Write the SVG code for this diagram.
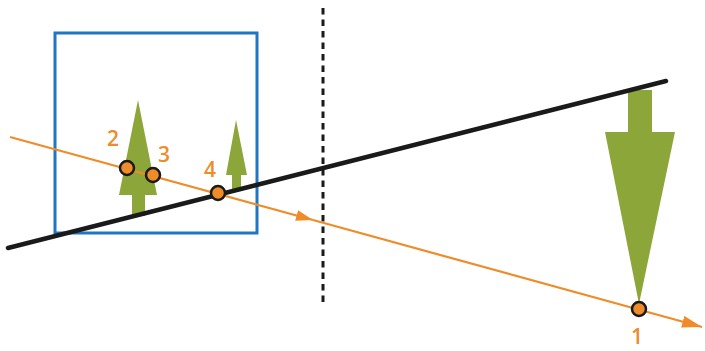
<svg xmlns="http://www.w3.org/2000/svg" width="705" height="351" viewBox="0 0 705 351">
<style>
.lbl{font-family:"Open Sans","DejaVu Sans",sans-serif;font-size:21px;font-weight:600;fill:#EF8C2A;text-anchor:middle}
.tree{fill:#8CA639}
.pt{fill:#EF8C2A;stroke:#1a1a1a;stroke-width:2.5}
.ray{stroke:#EF8C2A;stroke-width:2.2;fill:none}
</style>
<defs>
<marker id="ah" markerUnits="userSpaceOnUse" markerWidth="20" markerHeight="12" refX="20" refY="6" orient="auto">
<path d="M0,0 L20,6 L0,12 z" fill="#EF8C2A"/>
</marker>
<marker id="ahm" markerUnits="userSpaceOnUse" markerWidth="17" markerHeight="11" refX="17" refY="5.5" orient="auto">
<path d="M0,0 L17,5.5 L0,11 z" fill="#EF8C2A"/>
</marker>
</defs>
<rect width="705" height="351" fill="#ffffff"/>
<g id="box"><rect x="55" y="33" width="202" height="200" fill="none" stroke="#1F77C4" stroke-width="3"/></g>
<g id="axis"><line x1="323" y1="8" x2="323" y2="305" stroke="#1a1a1a" stroke-width="3" stroke-dasharray="6.5,5"/></g>
<g id="tree-object"><polygon class="tree" points="138,100 157,195 145,195 145,216 132,216 132,195 119,195"/></g>
<g id="tree-small"><polygon class="tree" points="236,120 247,175 241,175 241,191 232,191 232,175 226,175"/></g>
<g id="tree-image"><polygon class="tree" points="628,90 652,90 652,132 675,132 639,304 605,132 628,132"/></g>
<g id="lens"><line x1="8" y1="248" x2="666" y2="81" stroke="#1a1a1a" stroke-width="4.5" stroke-linecap="round"/></g>
<g id="connectors">
<path class="ray" d="M10,137 L313,220" marker-end="url(#ahm)"/>
<path class="ray" d="M313,220 L702,327" marker-end="url(#ah)"/>
</g>
<g id="p2"><circle class="pt" cx="127" cy="168" r="7"/><text class="lbl" x="113" y="146">2</text></g>
<g id="p3"><circle class="pt" cx="153" cy="175" r="7"/><text class="lbl" x="164" y="162">3</text></g>
<g id="p4"><circle class="pt" cx="218" cy="193" r="7"/><text class="lbl" x="210" y="177">4</text></g>
<g id="p1"><circle class="pt" cx="639" cy="309" r="7"/><text class="lbl" x="637" y="344">1</text></g>
</svg>
